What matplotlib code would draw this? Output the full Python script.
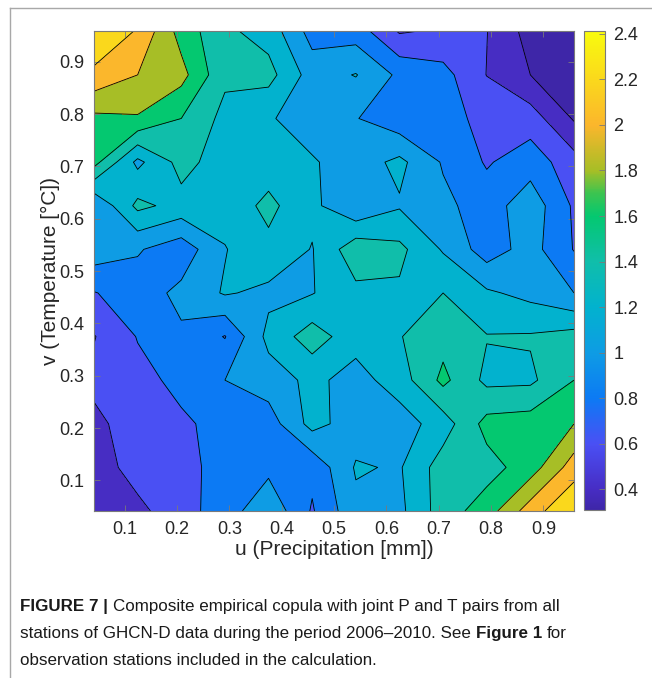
import numpy as np
import matplotlib
matplotlib.use("Agg")
import matplotlib.pyplot as plt
from matplotlib.colors import LinearSegmentedColormap, Normalize
from matplotlib.cm import ScalarMappable
from matplotlib.lines import Line2D
from matplotlib.ticker import FuncFormatter
from matplotlib import font_manager

# ---------------- data ----------------
u_grid = [0.0417, 0.125, 0.2083, 0.2917, 0.375, 0.4583, 0.5417, 0.625, 0.7083, 0.7917, 0.875, 0.9583]
v_grid = [0.0417, 0.125, 0.2083, 0.2917, 0.375, 0.4583, 0.5417, 0.625, 0.7083, 0.7917, 0.875, 0.9583]

# copula density, one list per v row (bottom -> top), values along u
dens_v01 = [0.42, 0.55, 0.72, 0.90, 1.15, 0.78, 1.15, 1.15, 1.50, 1.70, 2.10, 2.40]
dens_v02 = [0.50, 0.68, 0.73, 0.88, 0.95, 0.85, 1.22, 1.18, 1.50, 1.52, 1.70, 2.10]
dens_v03 = [0.55, 0.70, 0.77, 0.86, 0.90, 1.27, 1.10, 1.10, 1.30, 1.67, 1.70, 1.80]
dens_v04 = [0.65, 0.74, 0.85, 1.00, 1.10, 1.25, 1.12, 1.30, 1.65, 1.35, 1.36, 1.60]
dens_v05 = [0.59, 0.81, 0.97, 0.79, 1.26, 1.50, 1.28, 1.39, 1.53, 1.41, 1.42, 1.48]
dens_v06 = [0.79, 0.90, 1.05, 1.22, 1.15, 1.19, 1.35, 1.37, 1.40, 1.23, 1.14, 1.00]
dens_v07 = [1.12, 1.02, 0.88, 1.19, 1.35, 1.19, 1.53, 1.45, 1.18, 0.90, 1.08, 0.79]
dens_v08 = [1.01, 1.45, 1.33, 1.28, 1.45, 1.25, 1.02, 1.18, 1.05, 0.90, 1.12, 0.77]
dens_v09 = [1.67, 1.15, 1.47, 1.30, 1.30, 1.22, 1.10, 1.25, 0.98, 0.78, 0.91, 0.68]
dens_v10 = [1.75, 1.78, 1.60, 1.34, 1.22, 1.10, 1.01, 0.865, 0.85, 0.76, 0.70, 0.38]
dens_v11 = [2.15, 2.00, 1.87, 1.44, 1.47, 1.11, 1.21, 0.958, 0.87, 0.595, 0.40, 0.33]
dens_v12 = [2.39, 2.18, 1.72, 1.44, 1.32, 0.92, 0.906, 0.58, 0.63, 0.605, 0.322, 0.31]

contour_levels = [0.4, 0.6, 0.8, 1.0, 1.2, 1.4, 1.6, 1.8, 2.0, 2.2]
cbar_ticks = [0.4, 0.6, 0.8, 1.0, 1.2, 1.4, 1.6, 1.8, 2.0, 2.2, 2.4]
cbar_limits = [0.31, 2.41]
axis_ticks = [0.1, 0.2, 0.3, 0.4, 0.5, 0.6, 0.7, 0.8, 0.9]

x_label = "u (Precipitation [mm])"
y_label = "v (Temperature [°C])"

# ---------------- colormap (parula-like) ----------------
cmap_anchor_vals = [0.31, 0.40, 0.60, 0.80, 1.00, 1.20, 1.40, 1.60, 1.70, 1.80, 2.00, 2.20, 2.41]
cmap_anchor_rgb = [(62, 38, 168), (71, 45, 196), (74, 80, 244), (12, 122, 244),
                   (14, 156, 228), (2, 178, 206), (16, 190, 170), (4, 200, 112),
                   (60, 196, 80), (166, 190, 38), (251, 182, 44), (250, 216, 28),
                   (249, 251, 14)]
lo, hi = cbar_limits
cmap = LinearSegmentedColormap.from_list(
    "parula_like",
    [((v - lo) / (hi - lo), tuple(c / 255 for c in rgb))
     for v, rgb in zip(cmap_anchor_vals, cmap_anchor_rgb)], N=512)
norm = Normalize(vmin=lo, vmax=hi)

Z = np.array([dens_v01, dens_v02, dens_v03, dens_v04, dens_v05, dens_v06,
              dens_v07, dens_v08, dens_v09, dens_v10, dens_v11, dens_v12])
U, V = np.meshgrid(u_grid, v_grid)

zmin, zmax = Z.min(), Z.max()
fill_levels = [zmin] + contour_levels + [zmax + 0.01]
band_colors = [cmap(norm(zmin))] + [cmap(norm(l)) for l in contour_levels]

# ---------------- figure ----------------
W, H = 652, 678
fig = plt.figure(figsize=(W / 100, H / 100), dpi=100)
fig.patch.set_facecolor("white")

font_main = "Liberation Sans"
txt_col = "#262626"
ax_col = "#7a7a7a"

ax = fig.add_axes([94 / W, 1 - 511 / H, 480 / W, 479.7 / H])
ax.contourf(U, V, Z, levels=fill_levels, colors=band_colors)
ax.contour(U, V, Z, levels=contour_levels, colors="k", linewidths=0.6)
ax.set_xlim(u_grid[0], u_grid[-1])
ax.set_ylim(v_grid[0], v_grid[-1])
ax.set_xticks(axis_ticks)
ax.set_yticks(axis_ticks)
fmt = FuncFormatter(lambda x, p: "%g" % round(x, 4))
ax.xaxis.set_major_formatter(fmt)
ax.yaxis.set_major_formatter(fmt)
ax.tick_params(direction="in", length=4.5, width=0.6, color=ax_col,
               top=True, right=True, labelsize=13, labelcolor=txt_col, pad=7)
for lab in ax.get_xticklabels() + ax.get_yticklabels():
    lab.set_family(font_main)
for s in ax.spines.values():
    s.set_color(ax_col)
    s.set_linewidth(0.8)

ax.set_xlabel(x_label, fontsize=15, color=txt_col, family=font_main)
ax.set_ylabel(y_label, fontsize=15, color=txt_col, family=font_main)
ax.xaxis.set_label_coords(0.5, (511 - 540) / 480)
ax.yaxis.set_label_coords((60 - 94) / 480, 0.5)

# colorbar
cax = fig.add_axes([584 / W, 1 - 510 / H, 21 / W, 478.5 / H])
sm = ScalarMappable(norm=norm, cmap=cmap)
cb = fig.colorbar(sm, cax=cax, ticks=cbar_ticks)
cb.outline.set_edgecolor(ax_col)
cb.outline.set_linewidth(0.8)
cax.yaxis.set_major_formatter(fmt)
cax.tick_params(direction="in", length=4, width=0.6, color=ax_col,
                labelsize=13, labelcolor=txt_col, pad=6)
for lab in cax.get_yticklabels():
    lab.set_family(font_main)

# frame lines of the journal figure box
fig.add_artist(Line2D([10 / W, 10 / W], [0, 1 - 8 / H], transform=fig.transFigure,
                      color="#a8a8a8", linewidth=1.0))
fig.add_artist(Line2D([10 / W, 1], [1 - 8 / H, 1 - 8 / H], transform=fig.transFigure,
                      color="#a8a8a8", linewidth=1.0))

# ---------------- caption ----------------
def has_font(name):
    try:
        font_manager.findfont(font_manager.FontProperties(family=name),
                              fallback_to_default=False)
        return True
    except Exception:
        return False

cap_family = "Liberation Sans Narrow" if has_font("Liberation Sans Narrow") else "Liberation Sans"

caption_lines = [
    [("FIGURE 7 |", "bold"), ("Composite empirical copula with joint P and T pairs from all", "normal")],
    [("stations of GHCN-D data during the period 2006\u20132010. See", "normal"), ("Figure 1", "bold"), ("for", "normal")],
    [("observation stations included in the calculation.", "normal")],
]
caption_baselines = [611, 638, 665]

fig.canvas.draw()
renderer = fig.canvas.get_renderer()

def text_w(s, size, weight):
    t = fig.text(0, 0, s, fontsize=size, fontweight=weight, family=cap_family)
    w = t.get_window_extent(renderer).width
    t.remove()
    return w

# fit first line width to the reference (about 543 px)
base_size = 12
w_line1 = text_w("FIGURE 7 |", base_size, "bold") + text_w("Composite empirical copula with joint P and T pairs from all", base_size, "normal")
sp = text_w("a a", base_size, "normal") - text_w("aa", base_size, "normal")
w_line1 += sp
cap_size = min(base_size * 540 / w_line1, 13.0)
space_w = text_w("a a", cap_size, "normal") - text_w("aa", cap_size, "normal")

for pieces, base in zip(caption_lines, caption_baselines):
    x = 20
    for i, (s, wt) in enumerate(pieces):
        t = fig.text(x / W, 1 - base / H, s, fontsize=cap_size, fontweight=wt,
                     family=cap_family, color="#1a1a1a", ha="left", va="baseline")
        x += t.get_window_extent(renderer).width + space_w

fig.savefig("out.png", dpi=100, facecolor="white")
